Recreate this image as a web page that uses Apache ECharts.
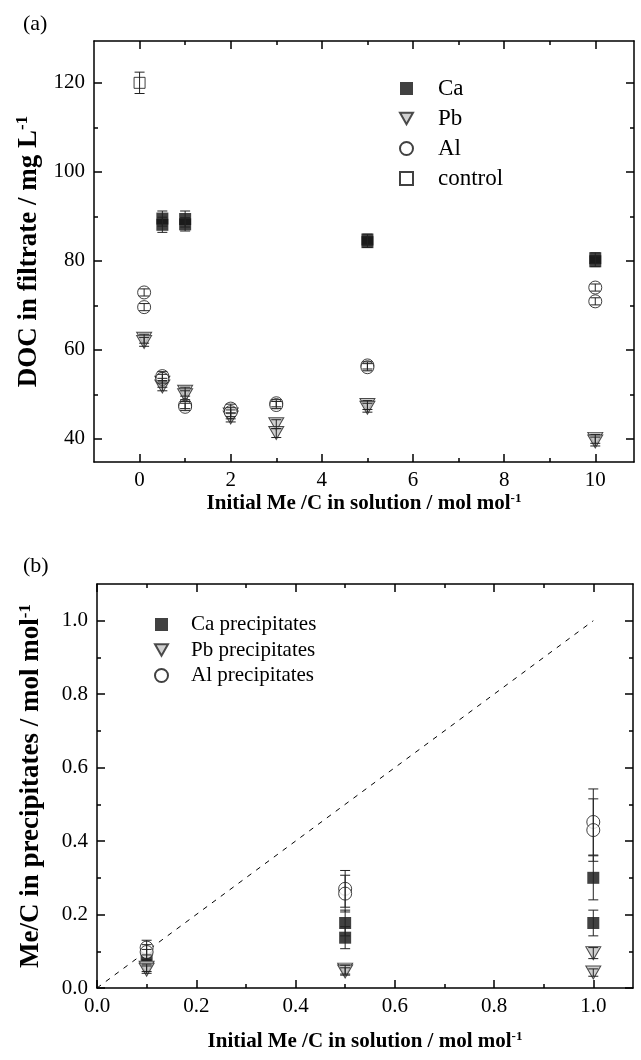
<!DOCTYPE html>
<html>
<head>
<meta charset="utf-8">
<script src="https://cdn.jsdelivr.net/npm/echarts@6/dist/echarts.min.js"></script>
<style>
  html, body { margin: 0; padding: 0; background: #fff; }
  #chart { width: 641px; height: 1060px; }
</style>
</head>
<body>
<div id="chart"></div>
<script>
// (a) DOC in filtrate
var caX = [0.5, 0.5, 1, 1, 5, 5, 10, 10];
var caY = [89.5, 88.1, 89.4, 88.2, 84.8, 84.2, 80.6, 79.9];
var caErr = [1.7, 1.7, 1.8, 1.5, 1.2, 1.2, 1.2, 1.2];
var pbX = [0.1, 0.1, 0.5, 0.5, 1, 1, 2, 2, 3, 3, 5, 5, 10, 10];
var pbY = [62.5, 61.8, 52.6, 51.8, 50.6, 49.8, 45.5, 44.8, 43.3, 41.3, 47.6, 47.0, 40.0, 39.4];
var pbErr = [1, 1, 1, 1, 1, 1, 1, 1, 1, 1, 1, 1, 1, 1];
var alX = [0.1, 0.1, 0.5, 0.5, 1, 1, 2, 2, 3, 3, 5, 5, 10, 10];
var alY = [72.9, 69.6, 54.1, 53.5, 47.6, 47.2, 46.8, 46.0, 48.0, 47.6, 56.5, 56.1, 74.0, 70.9];
var alErr = [0.8, 0.8, 1, 1, 0.8, 0.8, 1, 1, 0.8, 0.8, 0.8, 0.8, 0.8, 0.8];
var ctrlX = [0];
var ctrlY = [120];
var ctrlErr = [2.4];

// (b) Me/C in precipitates
var caPX = [0.1, 0.5, 0.5, 1, 1];
var caPY = [0.09, 0.177, 0.137, 0.30, 0.177];
var caPErr = [0.015, 0.035, 0.03, 0.06, 0.035];
var pbPX = [0.1, 0.1, 0.5, 0.5, 1, 1];
var pbPY = [0.055, 0.05, 0.05, 0.045, 0.095, 0.042];
var pbPErr = [0.01, 0.01, 0.012, 0.01, 0.015, 0.01];
var alPX = [0.1, 0.1, 0.5, 0.5, 1, 1];
var alPY = [0.11, 0.098, 0.27, 0.257, 0.452, 0.43];
var alPErr = [0.02, 0.02, 0.05, 0.05, 0.09, 0.085];
var diagX = [0, 1];
var diagY = [0, 1];

var topXMajor = [0, 2, 4, 6, 8, 10];
var topXMinor = [1, 3, 5, 7, 9];
var topYMajor = [40, 60, 80, 100, 120];
var topYMinor = [50, 70, 90, 110];
var botMajor = [0, 0.2, 0.4, 0.6, 0.8, 1.0];
var botMinor = [0.1, 0.3, 0.5, 0.7, 0.9];

var FONT = 'Liberation Serif';
var TRI_DOWN = 'path://M0,0L10,0L5,8.7Z';
var chart = echarts.init(document.getElementById('chart'));

function nameRich(size) {
  return {
    b: { fontFamily: FONT, fontWeight: 'bold', fontSize: size, lineHeight: size + 2, color: '#000' },
    s: { fontFamily: FONT, fontWeight: 'bold', fontSize: Math.round(size * 0.62), lineHeight: Math.round(size * 0.62), verticalAlign: 'top', color: '#000' }
  };
}

// labelled axis + mirror on the opposite side, each with a second axis just for the short minor ticks
function axes(dim, grid, min, max, major, minor, fmt, name, gap, nameSize, margin) {
  var posA = dim === 'x' ? 'bottom' : 'left';
  var posB = dim === 'x' ? 'top' : 'right';
  var list = [];
  [posA, posB].forEach(function (pos, k) {
    list.push({
      type: 'value', gridIndex: grid, position: pos, min: min, max: max,
      axisLine: { show: true, onZero: false, lineStyle: { color: '#000', width: 1.5 } },
      axisTick: { inside: true, length: 8, customValues: major, lineStyle: { color: '#000', width: 1.5 } },
      axisLabel: {
        show: k === 0, customValues: major, formatter: fmt,
        fontFamily: FONT, fontSize: 21, color: '#000', margin: margin
      },
      splitLine: { show: false },
      name: k === 0 ? name : '', nameLocation: 'middle', nameGap: gap,
      nameTextStyle: { rich: nameRich(nameSize) }
    });
    list.push({
      type: 'value', gridIndex: grid, position: pos, min: min, max: max,
      axisLine: { show: false, onZero: false },
      axisTick: { inside: true, length: 4, customValues: minor, lineStyle: { color: '#000', width: 1.5 } },
      axisLabel: { show: false },
      splitLine: { show: false }
    });
  });
  return list;
}

var xAxes = [].concat(
  axes('x', 0, -1, 10.85, topXMajor, topXMinor, function (v) { return String(v); },
    '{b|Initial Me /C in solution / mol mol}{s|-1}', 27, 21, 8),
  axes('x', 1, 0, 1.08, botMajor, botMinor, function (v) { return v.toFixed(1); },
    '{b|Initial Me /C in solution / mol mol}{s|-1}', 42, 21, 8)
);
var yAxes = [].concat(
  axes('y', 0, 34.8, 129.4, topYMajor, topYMinor, function (v) { return String(v); },
    '{b|DOC in filtrate / mg L}{s|-1}', 48, 27, 9),
  axes('y', 1, 0, 1.1, botMajor, botMinor, function (v) { return v.toFixed(1); },
    '{b|Me/C in precipitates / mol mol}{s|-1}', 51, 27, 9)
);

function pts(xs, ys) {
  return xs.map(function (x, i) { return [x, ys[i]]; });
}

function errBars(xs, ys, errs, idx) {
  return {
    type: 'custom', xAxisIndex: idx, yAxisIndex: idx, z: 5, silent: true,
    data: xs.map(function (x, i) { return [x, ys[i] - errs[i], ys[i] + errs[i]]; }),
    renderItem: function (params, api) {
      var lo = api.coord([api.value(0), api.value(1)]);
      var hi = api.coord([api.value(0), api.value(2)]);
      var st = { stroke: '#222', lineWidth: 1 };
      return {
        type: 'group',
        children: [
          { type: 'line', shape: { x1: lo[0], y1: lo[1], x2: hi[0], y2: hi[1] }, style: st },
          { type: 'line', shape: { x1: lo[0] - 5, y1: lo[1], x2: lo[0] + 5, y2: lo[1] }, style: st },
          { type: 'line', shape: { x1: hi[0] - 5, y1: hi[1], x2: hi[0] + 5, y2: hi[1] }, style: st }
        ]
      };
    }
  };
}

var caStyle = { symbol: 'rect', symbolSize: 12, itemStyle: { color: '#111' } };
var pbStyle = { symbol: TRI_DOWN, symbolSize: [15, 13], itemStyle: { color: '#c4c4c4', borderColor: '#222', borderWidth: 1 } };
var alStyle = { symbol: 'circle', symbolSize: 13, itemStyle: { color: '#fff', borderColor: '#111', borderWidth: 1 } };
var ctrlStyle = { symbol: 'rect', symbolSize: 11, itemStyle: { color: '#fff', borderColor: '#111', borderWidth: 1 } };

function scatter(name, xs, ys, style, idx) {
  return Object.assign({ type: 'scatter', name: name, xAxisIndex: idx, yAxisIndex: idx, z: 3,
    data: pts(xs, ys) }, style);
}

var series = [
  scatter('Ca', caX, caY, caStyle, 0),
  scatter('Pb', pbX, pbY, pbStyle, 0),
  scatter('Al', alX, alY, alStyle, 0),
  scatter('control', ctrlX, ctrlY, ctrlStyle, 0),
  errBars(caX, caY, caErr, 0),
  errBars(pbX, pbY, pbErr, 0),
  errBars(alX, alY, alErr, 0),
  errBars(ctrlX, ctrlY, ctrlErr, 0),
  {
    type: 'line', xAxisIndex: 4, yAxisIndex: 4, data: pts(diagX, diagY), symbol: 'none', z: 1,
    lineStyle: { color: '#000', width: 1, type: [5, 6] }
  },
  scatter('Ca precipitates', caPX, caPY, caStyle, 4),
  scatter('Pb precipitates', pbPX, pbPY, pbStyle, 4),
  scatter('Al precipitates', alPX, alPY, alStyle, 4),
  errBars(caPX, caPY, caPErr, 4),
  errBars(pbPX, pbPY, pbPErr, 4),
  errBars(alPX, alPY, alPErr, 4)
];

var option = {
  animation: false,
  backgroundColor: '#fff',
  grid: [
    { left: 94, top: 41, right: 7, height: 421 },
    { left: 97, top: 584, right: 8, height: 404 }
  ],
  xAxis: xAxes,
  yAxis: yAxes,
  legend: [
    {
      data: [
        { name: 'Ca', icon: 'rect' }, { name: 'Pb', icon: TRI_DOWN },
        { name: 'Al', icon: 'circle' }, { name: 'control', icon: 'rect' }
      ],
      orient: 'vertical', left: 394, top: 72,
      itemWidth: 13, itemHeight: 13, itemGap: 7,
      textStyle: { fontFamily: FONT, fontSize: 23, color: '#000', padding: [0, 0, 0, 20] }
    },
    {
      data: [
        { name: 'Ca precipitates', icon: 'rect' }, { name: 'Pb precipitates', icon: TRI_DOWN },
        { name: 'Al precipitates', icon: 'circle' }
      ],
      orient: 'vertical', left: 149, top: 609,
      itemWidth: 13, itemHeight: 13, itemGap: 4.5,
      textStyle: { fontFamily: FONT, fontSize: 21, color: '#000', padding: [0, 0, 0, 18] }
    }
  ],
  graphic: [
    { type: 'text', left: 23, top: 13, style: { text: '(a)', font: '22px "Liberation Serif"', fill: '#000' } },
    { type: 'text', left: 23, top: 555, style: { text: '(b)', font: '22px "Liberation Serif"', fill: '#000' } }
  ],
  series: series
};
chart.setOption(option);
</script>
</body>
</html>
